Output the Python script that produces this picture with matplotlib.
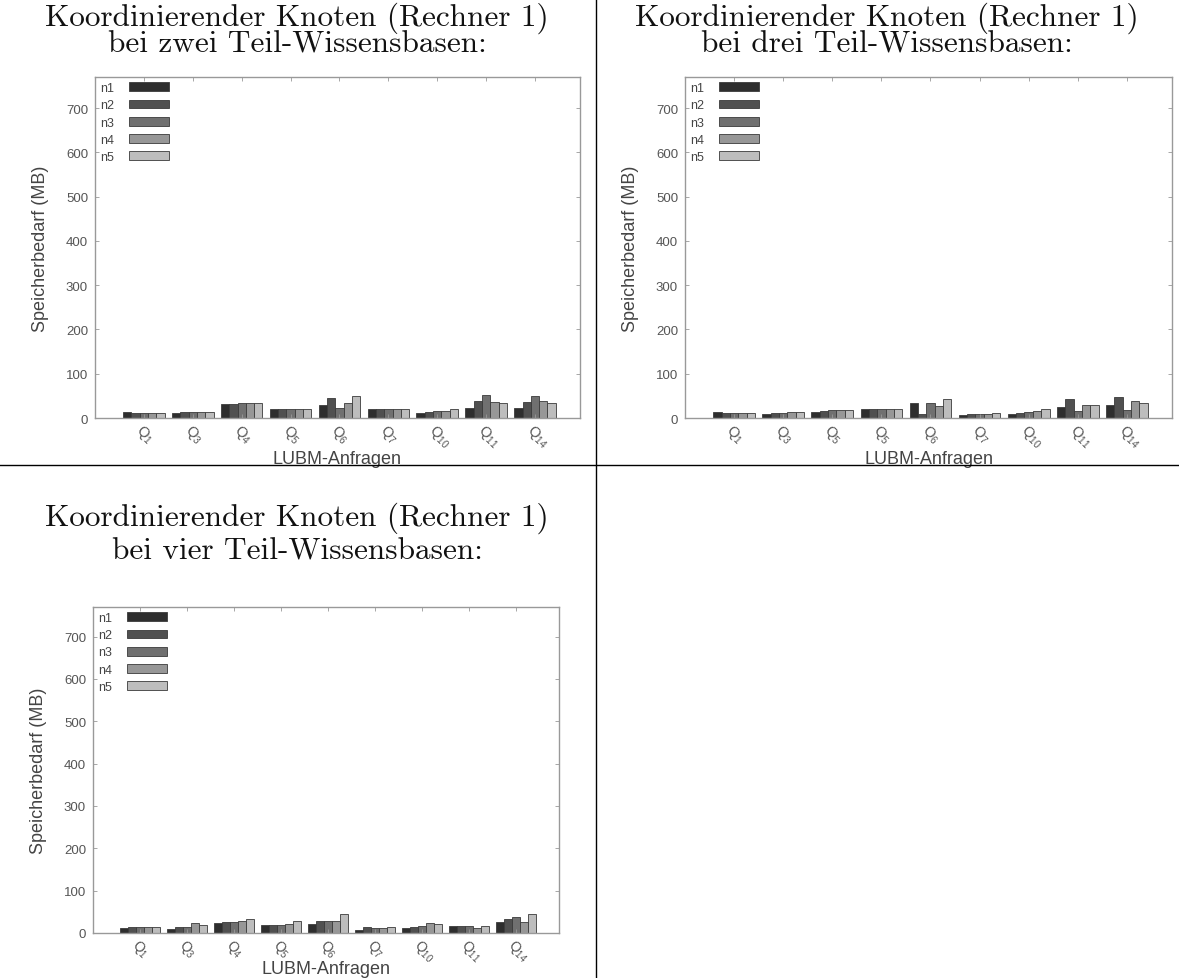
import numpy as np
import matplotlib.pyplot as plt
from matplotlib.lines import Line2D

# data (MB)
series = ["n1", "n2", "n3", "n4", "n5"]

queries_zwei = ["1", "3", "4", "5", "6", "7", "10", "11", "14"]
zwei = {
    "n1": [14, 12, 32, 20, 29, 20, 11, 23, 23],
    "n2": [12, 13, 32, 20, 45, 20, 14, 38, 37],
    "n3": [12, 13, 33, 20, 23, 20, 15, 52, 49],
    "n4": [12, 14, 33, 20, 33, 21, 16, 36, 38],
    "n5": [12, 14, 33, 20, 50, 21, 20, 35, 33],
}

queries_drei = ["1", "3", "5", "5", "6", "7", "10", "11", "14"]
drei = {
    "n1": [13, 10, 14, 21, 35, 7, 10, 24, 30],
    "n2": [12, 11, 15, 20, 8, 9, 11, 44, 48],
    "n3": [12, 12, 17, 20, 35, 9, 14, 15, 19],
    "n4": [12, 14, 18, 20, 28, 9, 15, 29, 39],
    "n5": [12, 13, 18, 20, 44, 11, 20, 29, 33],
}

queries_vier = ["1", "3", "4", "5", "6", "7", "10", "11", "14"]
vier = {
    "n1": [12, 10, 24, 19, 22, 8, 12, 16, 26],
    "n2": [13, 14, 26, 18, 29, 15, 14, 16, 32],
    "n3": [13, 14, 26, 19, 29, 12, 16, 16, 38],
    "n4": [13, 24, 29, 21, 29, 12, 23, 11, 25],
    "n5": [13, 18, 32, 29, 46, 14, 21, 16, 46],
}

colors = ["#2e2e2e", "#505050", "#707070", "#979797", "#bdbdbd"]
TICK_GRAY = "#555555"
FRAME_GRAY = "#999999"

W, H = 1179, 979
plt.rcParams["font.family"] = ["Liberation Sans", "DejaVu Sans"]
plt.rcParams["mathtext.default"] = "regular"
fig = plt.figure(figsize=(W / 100, H / 100), dpi=100)


def px_axes(left, top, right, bottom):
    return fig.add_axes([left / W, 1 - bottom / H, (right - left) / W, (bottom - top) / H])


def draw_panel(ax, queries, data, xlabel_y, qsize):
    x = np.arange(len(queries))
    width = 0.17
    for i, name in enumerate(series):
        ax.bar(x + (i - 2) * width, data[name], width, color=colors[i],
               edgecolor="#3a3a3a", linewidth=0.6, label=name)
    ax.set_xlim(-1.0, len(queries) - 0.08)
    ax.set_ylim(0, 770)
    ax.set_yticks(range(0, 701, 100))
    ax.set_xticks(x)
    ax.set_xticklabels(["Q$_{%s}$" % q for q in queries], rotation=-45,
                       ha="left", va="top", rotation_mode="anchor", fontsize=qsize)
    ax.tick_params(direction="in", top=True, right=True, length=3, width=0.6,
                   color=FRAME_GRAY, labelcolor=TICK_GRAY)
    ax.tick_params(axis="y", labelsize=9.5, pad=5)
    ax.tick_params(axis="x", pad=2)
    for s in ax.spines.values():
        s.set_color(FRAME_GRAY)
        s.set_linewidth(1.0)
    ax.set_ylabel("Speicherbedarf (MB)", fontsize=13, color="#444444", labelpad=12)
    ax.set_xlabel("LUBM-Anfragen", fontsize=13, color="#444444", va="center")
    ax.xaxis.set_label_coords(0.5, xlabel_y)
    ax.legend(loc="upper left", frameon=False, markerfirst=False, fontsize=9,
              handlelength=3.2, handleheight=0.7, handletextpad=1.2,
              labelspacing=0.42, borderaxespad=0.3, borderpad=0.1,
              labelcolor="#444444")


ax1 = px_axes(95, 78, 580, 419)
draw_panel(ax1, queries_zwei, zwei, -40 / 341, 10.5)
ax2 = px_axes(685, 78, 1172, 419)
draw_panel(ax2, queries_drei, drei, -40 / 341, 10.5)
ax3 = px_axes(93, 608, 559, 934)
draw_panel(ax3, queries_vier, vier, -36 / 326, 10)

title_kw = dict(family="cmr10", fontsize=22.5, ha="center", va="center", color="#111111")
fig.text(297 / W, 1 - 18 / H, "Koordinierender Knoten (Rechner 1)", **title_kw)
fig.text(297 / W, 1 - 45 / H, "bei zwei Teil-Wissensbasen:", **title_kw)
fig.text(887 / W, 1 - 18 / H, "Koordinierender Knoten (Rechner 1)", **title_kw)
fig.text(887 / W, 1 - 45 / H, "bei drei Teil-Wissensbasen:", **title_kw)
fig.text(297 / W, 1 - 518 / H, "Koordinierender Knoten (Rechner 1)", **title_kw)
fig.text(297 / W, 1 - 552 / H, "bei vier Teil-Wissensbasen:", **title_kw)

# table rules separating the panels
fig.add_artist(Line2D([596 / W, 596 / W], [0, 1], color="black", linewidth=1.0))
fig.add_artist(Line2D([0, 1], [1 - 466 / H, 1 - 466 / H], color="black", linewidth=1.0))

fig.savefig("out.png", dpi=100)
